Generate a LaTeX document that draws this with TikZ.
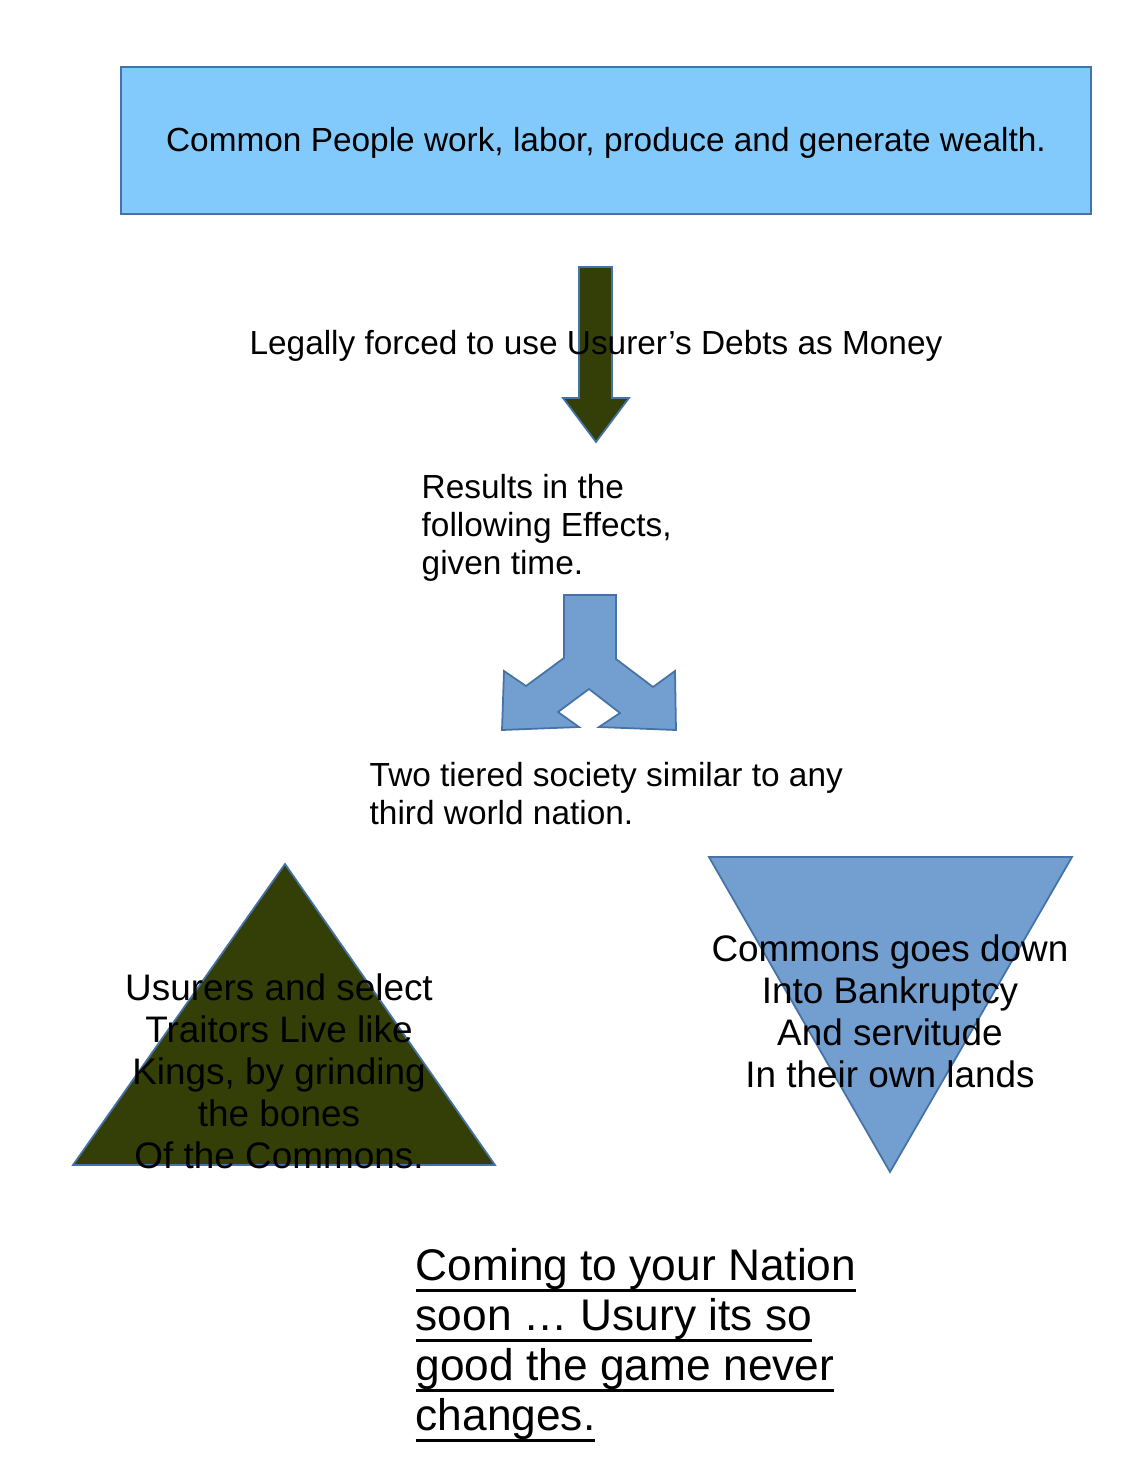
\documentclass[tikz,border=0pt]{standalone}
\usepackage{fontspec}
\setmainfont{Liberation Sans}
\usetikzlibrary{calc}
\definecolor{skyfill}{RGB}{131,202,252}
\definecolor{olivefill}{RGB}{51,63,6}
\definecolor{splitfill}{RGB}{114,159,207}
\definecolor{edgeblue}{RGB}{69,114,167}
\newcommand{\ulrow}[1]{\setbox0\hbox{#1}\rlap{\rule[-0.25em]{\wd0}{0.07em}}\box0}

\begin{document}
\begin{tikzpicture}[txt/.style={inner sep=0pt, font=\fontsize{9.5}{10.8}\selectfont, align=left},tri/.style={inner sep=0pt, font=\fontsize{10.5}{11.95}\selectfont, align=center},blk/.style={draw=edgeblue, line width=0.5pt}]
  \useasboundingbox (0,0) rectangle (11.39,-14.74);

  \node[blk, fill=skyfill, minimum width=9.70cm, minimum height=1.47cm, font=\fontsize{9.5}{10.8}\selectfont] (wealth) at (6.06,-1.405) {};
  \node[txt] (wealthtext) at (6.06,-1.43) {Common People work, labor, produce and generate wealth.};

  \fill[blk, fill=olivefill] (5.79,-2.67) -- (6.12,-2.67) -- (6.12,-3.98) -- (6.29,-3.98) -- (5.96,-4.42) -- (5.63,-3.98) -- (5.79,-3.98) -- cycle;
  \node[txt] (forced) at (5.96,-3.46) {Legally forced to use Usurer’s Debts as Money};

  \node[txt, anchor=north west] (effects) at (4.21,-4.74) {Results in the\\following Effects,\\given time.};

  \fill[blk, fill=splitfill] (5.64,-5.95) -- (6.16,-5.95) -- (6.16,-6.59) -- (6.53,-6.87) -- (6.75,-6.71) -- (6.76,-7.30) -- (5.99,-7.27) -- (6.20,-7.13) -- (5.89,-6.89) -- (5.58,-7.12) -- (5.79,-7.27) -- (5.02,-7.30) -- (5.04,-6.71) -- (5.26,-6.86) -- (5.64,-6.58) -- cycle;

  \node[txt, anchor=north west] (tiers) at (3.69,-7.62) {Two tiered society similar to any\\third world nation.};

  \fill[blk, fill=olivefill] (2.85,-8.64) -- (4.95,-11.65) -- (0.73,-11.65) -- cycle;
  \node[tri, anchor=north] (usurers) at (2.79,-9.73) {Usurers and select\\Traitors Live like\\Kings, by grinding\\the bones\\Of the Commons.};

  \fill[blk, fill=splitfill] (7.09,-8.57) -- (10.72,-8.57) -- (8.90,-11.72) -- cycle;
  \node[tri, anchor=north] (commons) at (8.90,-9.34) {Commons goes down\\Into Bankruptcy\\And servitude\\In their own lands};

  \node[inner sep=0pt, anchor=north west, align=left, font=\fontsize{12.6}{14.2}\selectfont] (coming) at (4.15,-12.48) {\ulrow{Coming to your Nation}\\\ulrow{soon … Usury its so}\\\ulrow{good the game never}\\\ulrow{changes.}};
\end{tikzpicture}
\end{document}
